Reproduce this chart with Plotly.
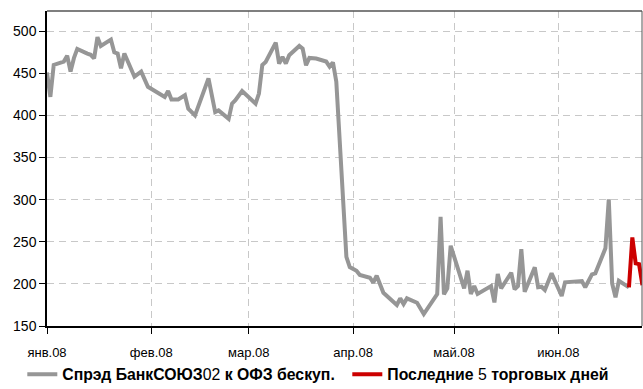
import plotly.graph_objects as go

# Spread series (gray)
spread_dates = [
    "2008-01-01", "2008-01-02", "2008-01-03", "2008-01-06", "2008-01-07", "2008-01-08",
    "2008-01-09", "2008-01-10", "2008-01-13", "2008-01-14", "2008-01-15", "2008-01-16",
    "2008-01-17", "2008-01-20", "2008-01-21", "2008-01-22", "2008-01-23", "2008-01-24",
    "2008-01-27", "2008-01-29", "2008-01-31", "2008-02-05", "2008-02-06", "2008-02-07",
    "2008-02-09", "2008-02-11", "2008-02-12", "2008-02-14", "2008-02-18", "2008-02-20",
    "2008-02-21", "2008-02-24", "2008-02-25", "2008-02-26", "2008-02-28", "2008-03-03",
    "2008-03-04", "2008-03-05", "2008-03-06", "2008-03-09", "2008-03-10", "2008-03-11",
    "2008-03-12", "2008-03-13", "2008-03-16", "2008-03-17", "2008-03-18", "2008-03-19",
    "2008-03-21", "2008-03-23", "2008-03-24", "2008-03-25", "2008-03-26", "2008-03-27",
    "2008-03-30", "2008-03-31", "2008-04-02", "2008-04-03", "2008-04-06", "2008-04-07",
    "2008-04-08", "2008-04-10", "2008-04-14", "2008-04-15", "2008-04-16", "2008-04-17",
    "2008-04-20", "2008-04-22", "2008-04-26", "2008-04-27", "2008-04-28", "2008-04-29",
    "2008-04-30", "2008-05-04", "2008-05-05", "2008-05-06", "2008-05-07", "2008-05-08",
    "2008-05-12", "2008-05-13", "2008-05-14", "2008-05-15", "2008-05-18", "2008-05-19",
    "2008-05-20", "2008-05-21", "2008-05-22", "2008-05-25", "2008-05-26", "2008-05-27",
    "2008-05-28", "2008-05-30", "2008-06-02", "2008-06-03", "2008-06-08", "2008-06-09",
    "2008-06-11", "2008-06-12", "2008-06-15", "2008-06-16", "2008-06-17", "2008-06-18",
    "2008-06-19", "2008-06-22",
]
spread_values = [
    451, 422, 460, 464, 471, 452,
    468, 479, 473.5, 472, 467.6, 493,
    482.5, 490, 475, 473.5, 456, 473.5,
    446, 452, 434, 422, 429, 419,
    419, 424, 408, 400, 444, 404,
    406, 396, 414, 418, 429, 414,
    426, 460, 463.5, 486.5, 461.6, 469.5,
    461.6, 471.5, 482.5, 479.4, 459.6, 468.3,
    467.6, 466, 464, 458, 463, 440,
    232, 220, 215.6, 210.5, 207.3, 201.4,
    209.7, 189.5, 175, 182.8, 176, 182.8,
    177.6, 164.2, 188, 279.7, 187.6, 194.7,
    245.3, 194.7, 215.6, 188, 197.4, 188,
    197.4, 178, 211.7, 194.7, 213.2, 193.5,
    197.4, 241.3, 190.7, 219.6, 196, 196.6,
    192.7, 212.5, 185.6, 201.8, 203.4, 196,
    211.3, 212.5, 242.2, 300.3, 200.6, 184,
    203.7, 195.9,
]

# Last 5 trading days (red)
last_dates = ["2008-06-22", "2008-06-23", "2008-06-24", "2008-06-25", "2008-06-26"]
last_values = [195.9, 255.2, 224.4, 223.5, 198.6]

# Axis ticks
month_ticks = ["2008-01-01", "2008-02-01", "2008-03-01", "2008-04-01", "2008-05-01", "2008-06-01"]
month_labels = ["янв.08", "фев.08", "мар.08", "апр.08", "май.08", "июн.08"]
y_ticks = [150, 200, 250, 300, 350, 400, 450, 500]

series_names = [
    "<b>Спрэд БанкСОЮЗ</b>02<b> к ОФЗ бескуп.</b>",
    "<b>Последние </b>5<b> торговых дней</b>",
]

FONT = "Liberation Sans, Arial, sans-serif"

fig = go.Figure()
fig.add_trace(go.Scatter(
    x=spread_dates, y=spread_values, mode="lines", name=series_names[0],
    line=dict(color="#969696", width=4), legendwidth=280,
))
fig.add_trace(go.Scatter(
    x=last_dates, y=last_values, mode="lines", name=series_names[1],
    line=dict(color="#CC0000", width=4), legendwidth=222,
))

grid = dict(gridcolor="#c8c8c8", gridwidth=1, griddash="7px,5px")

fig.update_layout(
    width=643, height=389,
    margin=dict(l=47, r=1, t=11, b=63, autoexpand=False),
    paper_bgcolor="white", plot_bgcolor="white",
    font=dict(family=FONT, color="#000000"),
    showlegend=True,
    legend=dict(
        orientation="h", x=-0.0415, xanchor="left", y=-0.10, yanchor="top",
        font=dict(size=15.8, family=FONT, color="#000000"),
        bgcolor="rgba(0,0,0,0)", itemwidth=30,
    ),
    xaxis=dict(
        type="date", range=["2008-01-01", "2008-06-25 21:00"],
        tickvals=month_ticks, ticktext=month_labels,
        showgrid=True, **grid,
        showline=True, linecolor="#000000", linewidth=1.5,
        ticks="outside", ticklen=6, tickcolor="#000000", tickwidth=1,
        tickfont=dict(size=13), ticklabelstandoff=8,
        zeroline=False, automargin=False,
    ),
    yaxis=dict(
        range=[150, 524], tickvals=y_ticks,
        showgrid=True, **grid,
        showline=True, linecolor="#000000", linewidth=1.5,
        ticks="outside", ticklen=6, tickcolor="#000000", tickwidth=1,
        tickfont=dict(size=14), zeroline=False, automargin=False,
    ),
    shapes=[
        dict(type="line", xref="paper", yref="paper", x0=0, x1=1, y0=1, y1=1,
             line=dict(color="#555555", width=1.5)),
        dict(type="line", xref="paper", yref="paper", x0=1, x1=1, y0=0, y1=1,
             line=dict(color="#555555", width=1)),
    ],
)

fig.write_html(
    "out.html",
    config={"displayModeBar": False},
    post_script="document.body.style.margin='0';document.body.style.overflow='hidden';",
)
